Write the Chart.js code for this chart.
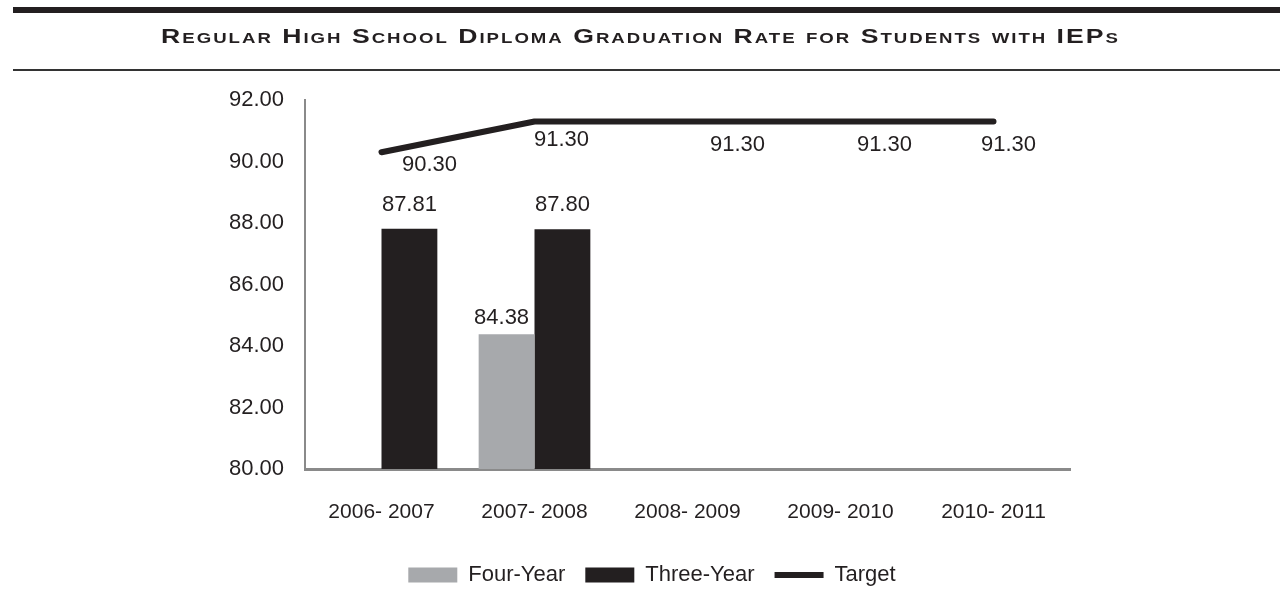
<!DOCTYPE html>
<html>
<head>
<meta charset="utf-8">
<script src="https://cdn.jsdelivr.net/npm/chart.js@4"></script>
<style>
body{margin:0;background:#fff;}
#wrap{position:relative;width:1280px;height:596px;}
#topline{position:absolute;left:13px;right:0;top:7px;height:6px;background:#231f20;}
#title{position:absolute;left:0;right:0;top:25px;text-align:center;z-index:2;}
#title span{display:inline-block;font:bold 20px "Liberation Sans",Arial,sans-serif;font-variant:small-caps;letter-spacing:1.5px;color:#231f20;transform:scaleX(1.33);transform-origin:center;}
#botline{position:absolute;left:13px;right:0;top:69px;height:2px;background:#333;}
canvas{position:absolute;left:0;top:0;}
</style>
</head>
<body>
<div id="wrap">
  <div id="topline"></div>
  <div id="title"><span>Regular High School Diploma Graduation Rate for Students with IEPs</span></div>
  <div id="botline"></div>
  <canvas id="graduationChart" width="1280" height="596"></canvas>
</div>
<script>
// school years on the x axis
var years=['2006- 2007','2007- 2008','2008- 2009','2009- 2010','2010- 2011'];
// graduation rates (%)
var fourYear=[null,84.38,null,null,null];
var threeYear=[87.81,87.80,null,null,null];
var target=[90.30,91.30,91.30,91.30,91.30];
var yTicks=[80,82,84,86,88,90,92];

// where the target labels sit relative to their points (style only)
var targetLabelShift=[[48,13],[27,18],[50,23],[44,23],[15,23]];

var ink='#231f20';
Chart.defaults.font.family='"Liberation Sans", Arial, sans-serif';
Chart.defaults.color=ink;

var valueLabels={
  id:'valueLabels',
  afterDatasetsDraw:function(chart){
    var ctx=chart.ctx;
    ctx.save();
    ctx.font='22px "Liberation Sans", Arial, sans-serif';
    ctx.fillStyle=ink;
    ctx.textAlign='center';
    chart.data.datasets.forEach(function(ds,i){
      var meta=chart.getDatasetMeta(i);
      meta.data.forEach(function(el,j){
        var v=ds.data[j];
        if(v==null) return;
        var txt=v.toFixed(2);
        if(ds.type==='line'){
          ctx.textBaseline='middle';
          ctx.fillText(txt,el.x+targetLabelShift[j][0],el.y+targetLabelShift[j][1]);
        }else{
          ctx.textBaseline='alphabetic';
          ctx.fillText(txt,el.x+ds.labelDx,el.y-ds.labelGap);
        }
      });
    });
    ctx.restore();
  }
};

var ctx=document.getElementById('graduationChart');
var chart=new Chart(ctx,{
  data:{
    labels:years,
    datasets:[
      {
        type:'bar',
        label:'Four-Year',
        data:fourYear,
        backgroundColor:'#a7a9ac',
        borderWidth:0,
        barPercentage:1,
        categoryPercentage:0.73,
        pointStyle:'rect',
        labelDx:-5,
        labelGap:10
      },
      {
        type:'bar',
        label:'Three-Year',
        data:threeYear,
        backgroundColor:ink,
        borderWidth:0,
        barPercentage:1,
        categoryPercentage:0.73,
        pointStyle:'rect',
        labelDx:0,
        labelGap:18
      },
      {
        type:'line',
        label:'Target',
        data:target,
        borderColor:ink,
        backgroundColor:ink,
        borderWidth:6,
        borderCapStyle:'round',
        borderJoinStyle:'round',
        pointRadius:0,
        pointStyle:'line',
        tension:0
      }
    ]
  },
  options:{
    responsive:false,
    animation:false,
    layout:{padding:{top:100,left:24,right:0,bottom:0}},
    plugins:{
      legend:{
        position:'bottom',
        labels:{
          usePointStyle:true,
          pointStyleWidth:49,
          boxHeight:15,
          padding:20,
          color:ink,
          font:{size:22}
        }
      },
      tooltip:{enabled:false}
    },
    scales:{
      x:{
        grid:{display:false,drawTicks:false},
        border:{color:'#8a8a8a',width:3},
        ticks:{color:ink,padding:31,font:{size:21}},
        afterFit:function(s){s.height=75;}
      },
      y:{
        min:80,
        max:92,
        grid:{display:false,drawTicks:false},
        border:{color:'#8a8a8a',width:2},
        ticks:{color:ink,padding:21,font:{size:22},callback:function(v){return v.toFixed(2);}},
        afterBuildTicks:function(s){s.ticks=yTicks.map(function(v){return {value:v};});},
        afterFit:function(s){s.width=281;}
      },
      // empty right margin so the legend centres on the page
      yRight:{
        position:'right',
        grid:{display:false,drawTicks:false},
        border:{display:false},
        ticks:{display:false},
        afterFit:function(s){s.width=210;}
      }
    }
  },
  plugins:[valueLabels]
});
</script>
</body>
</html>
